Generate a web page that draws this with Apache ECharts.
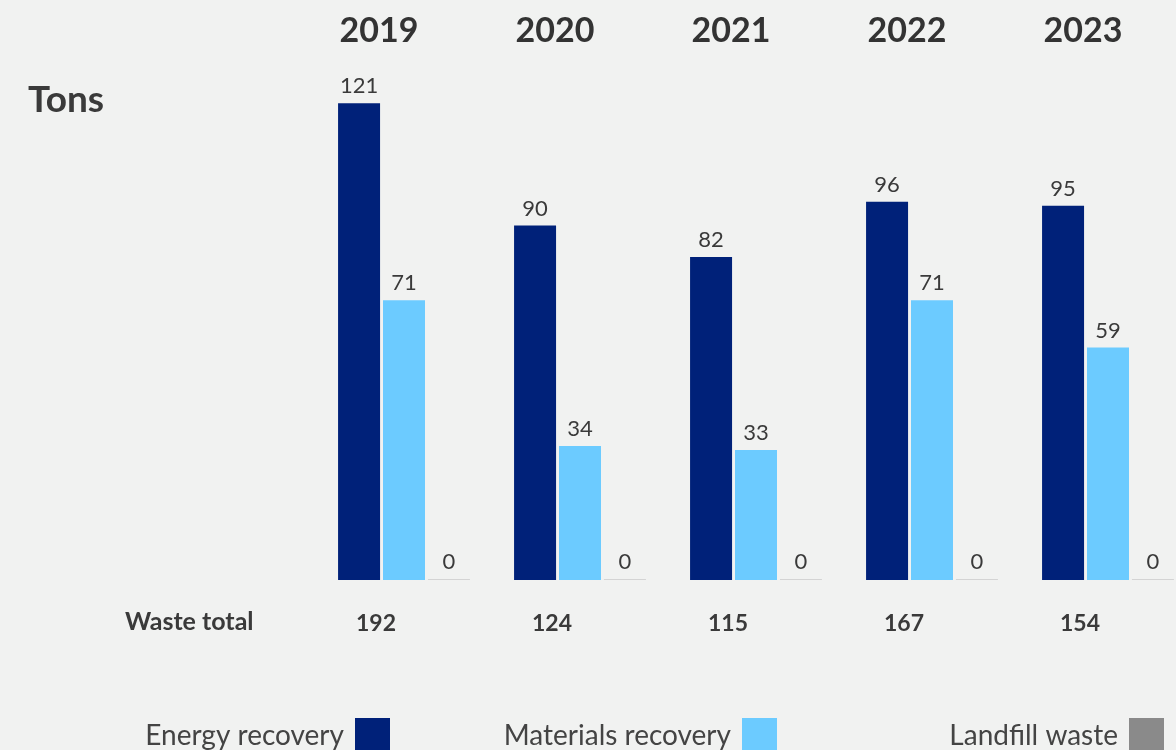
<!DOCTYPE html>
<html>
<head>
<meta charset="utf-8">
<script src="https://cdn.jsdelivr.net/npm/echarts@6/dist/echarts.min.js"></script>
<style>
html,body{margin:0;padding:0;background:#f1f2f1;overflow:hidden;width:1176px;height:750px;}
#c{width:1220px;height:750px;}
</style>
</head>
<body>
<div id="c"></div>
<script>
const years = ['2019','2020','2021','2022','2023'];
const energyRecovery = [121, 90, 82, 96, 95];
const materialsRecovery = [71, 34, 33, 71, 59];
const landfillWaste = [0, 0, 0, 0, 0];
const wasteTotals = [192, 124, 115, 167, 154];
const seriesNames = ['Energy recovery', 'Materials recovery', 'Landfill waste'];
const colors = ['#002179', '#6ccbff', '#8a8a8a'];

const FONT = 'Lato, "Open Sans", sans-serif';
const EXTRA = 44; // container is wider than the visible 1176px window
const chart = echarts.init(document.getElementById('c'), null, {renderer: 'canvas'});

const labelStyle = {show: true, position: 'top', distance: 6, fontSize: 22, color: '#3a3a3a', fontFamily: FONT};

function legendFor(i, right) {
  return {
    data: [{name: seriesNames[i], itemStyle: {color: colors[i]}}],
    right: right + EXTRA, top: 713, align: 'right', icon: 'rect',
    itemWidth: 35, itemHeight: 35,
    selectedMode: false,
    textStyle: {fontSize: 28, color: '#444', fontFamily: FONT, padding: [0, 6, 0, 0]}
  };
}

chart.setOption({
  backgroundColor: '#f1f2f1',
  animation: false,
  grid: {left: 316, top: 60, width: 880, height: 520},
  xAxis: [
    {
      type: 'category', data: wasteTotals.map(String), position: 'bottom',
      axisLine: {show: false}, axisTick: {show: false},
      axisLabel: {margin: 32, fontSize: 23, fontWeight: 'bold', color: '#3a3a3a', fontFamily: FONT, padding: [0, 56, 0, 0]}
    },
    {
      type: 'category', data: years, position: 'top',
      axisLine: {show: false}, axisTick: {show: false},
      axisLabel: {margin: 12, fontSize: 34, lineHeight: 34, fontWeight: 'bold', color: '#333', fontFamily: FONT, padding: [0, 50, 0, 0]}
    }
  ],
  yAxis: {type: 'value', min: 0, max: 132, show: false, splitLine: {show: false}},
  legend: [legendFor(0, 781), legendFor(1, 394), legendFor(2, 7)],
  graphic: [
    {type: 'text', left: 28, top: 82, style: {text: 'Tons', font: 'bold 37px ' + FONT, fill: '#3a3a3a'}},
    {type: 'text', left: 125, top: 609, style: {text: 'Waste total', font: 'bold 25px ' + FONT, fill: '#3a3a3a'}}
  ],
  series: [
    {name: seriesNames[0], type: 'bar', data: energyRecovery, barWidth: 42, barGap: '7%', itemStyle: {color: colors[0]}, label: labelStyle},
    {name: seriesNames[1], type: 'bar', data: materialsRecovery, barWidth: 42, barGap: '7%', itemStyle: {color: colors[1]}, label: labelStyle},
    {name: seriesNames[2], type: 'bar', data: landfillWaste, barWidth: 42, barGap: '7%', barMinHeight: 1, itemStyle: {color: '#d4d4d4'}, label: labelStyle}
  ]
});
</script>
</body>
</html>
